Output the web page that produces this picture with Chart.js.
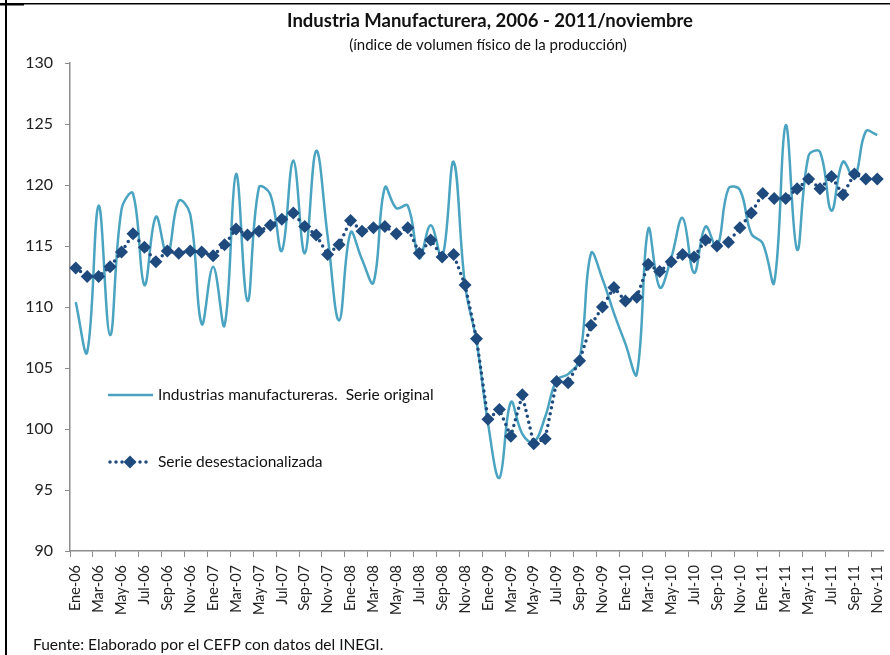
<!DOCTYPE html>
<html>
<head>
<meta charset="utf-8">
<script src="https://cdn.jsdelivr.net/npm/chart.js@4.4.1/dist/chart.umd.min.js"></script>
<style>
  html, body { margin: 0; padding: 0; background: #fff; }
</style>
</head>
<body>
<canvas id="lineChart" width="890" height="655"></canvas>
<script>
// Datos: índice de volumen físico, Ene-2006 a Nov-2011
const meses = ['Ene', 'Feb', 'Mar', 'Abr', 'May', 'Jun', 'Jul', 'Ago', 'Sep', 'Oct', 'Nov', 'Dic'];
const anios = ['06', '07', '08', '09', '10', '11'];
const etiquetas = [];
anios.forEach(a => meses.forEach(m => etiquetas.push(m + '-' + a)));
etiquetas.splice(71); // hasta Nov-11

const serieOriginal = [
    110.4, 106.3, 118.3, 107.7, 118.0, 119.3, 111.8, 117.4, 114.3, 118.7, 117.6, 108.6,
    113.3, 108.5, 120.9, 110.5, 119.8, 119.2, 114.6, 122.0, 114.4, 122.8, 115.8, 108.9,
    116.1, 113.9, 112.0, 119.8, 118.1, 118.3, 114.0, 116.7, 114.0, 121.9, 111.8, 107.2,
    100.5, 96.0, 102.2, 99.6, 98.9, 101.0, 104.0, 104.5, 105.7, 114.4, 112.3, 109.5,
    107.0, 104.5, 116.4, 111.6, 114.0, 117.3, 112.8, 116.6, 114.9, 119.7, 119.6, 116.0,
    115.2, 112.0, 124.9, 114.7, 122.4, 122.7, 117.9, 121.9, 120.6, 124.4, 124.1
];
const serieDesest = [
    113.2, 112.5, 112.5, 113.3, 114.5, 116.0, 114.9, 113.7, 114.6, 114.4, 114.6, 114.5,
    114.2, 115.1, 116.4, 115.9, 116.2, 116.7, 117.2, 117.7, 116.6, 115.9, 114.3, 115.1,
    117.1, 116.2, 116.5, 116.6, 116.0, 116.5, 114.4, 115.5, 114.1, 114.3, 111.8, 107.4,
    100.8, 101.6, 99.4, 102.8, 98.8, 99.2, 103.9, 103.8, 105.6, 108.5, 110.0, 111.6,
    110.5, 110.8, 113.5, 112.9, 113.7, 114.3, 114.1, 115.5, 115.0, 115.3, 116.5, 117.7,
    119.3, 118.9, 118.9, 119.7, 120.5, 119.7, 120.7, 119.2, 120.9, 120.5, 120.5
];
const yMin = 90, yMax = 130, yPaso = 5;

const colorOriginal = '#4aa3c0';
const colorDesest = '#1f4a7e';
const fuente = 'Lato';
Chart.defaults.font.family = fuente;
Chart.defaults.color = '#222';

const decoracion = {
    id: 'decoracion',
    beforeDraw(chart) {
        const ctx = chart.ctx;
        ctx.save();
        ctx.fillStyle = '#000';
        ctx.fillRect(5, 0, 2, 655);
        ctx.fillRect(0, 3, 890, 1.5);
        ctx.fillRect(0, 3, 24, 2.5);
        ctx.restore();
    },
    afterDraw(chart) {
        const ctx = chart.ctx;
        const a = chart.chartArea;
        ctx.save();
        ctx.fillStyle = '#111';
        ctx.textAlign = 'center';
        ctx.textBaseline = 'middle';
        ctx.font = 'bold 18.5px ' + fuente;
        ctx.fillText('Industria Manufacturera, 2006 - 2011/noviembre', 490, 21);
        ctx.font = '15px ' + fuente;
        ctx.fillText('(índice de volumen físico de la producción)', 488, 45);

        // leyenda
        ctx.textAlign = 'left';
        ctx.font = '15.5px ' + fuente;
        const lx = a.left + 38, y1 = 395, y2 = 462;
        ctx.strokeStyle = colorOriginal;
        ctx.lineWidth = 2.5;
        ctx.beginPath();
        ctx.moveTo(lx, y1);
        ctx.lineTo(lx + 45, y1);
        ctx.stroke();
        ctx.fillText('Industrias manufactureras.  Serie original', lx + 50, y1);

        ctx.strokeStyle = colorDesest;
        ctx.lineWidth = 3.5;
        ctx.lineCap = 'round';
        ctx.setLineDash([0, 6]);
        ctx.beginPath();
        ctx.moveTo(lx + 2, y2);
        ctx.lineTo(lx + 44, y2);
        ctx.stroke();
        ctx.setLineDash([]);
        ctx.fillStyle = colorDesest;
        ctx.beginPath();
        ctx.moveTo(lx + 22, y2 - 6.5);
        ctx.lineTo(lx + 28.5, y2);
        ctx.lineTo(lx + 22, y2 + 6.5);
        ctx.lineTo(lx + 15.5, y2);
        ctx.closePath();
        ctx.fill();
        ctx.fillStyle = '#111';
        ctx.fillText('Serie desestacionalizada', lx + 50, y2);

        ctx.font = '15.5px ' + fuente;
        ctx.fillText('Fuente: Elaborado por el CEFP con datos del INEGI.', 33, 645);
        ctx.restore();
    }
};

const ctx = document.getElementById('lineChart').getContext('2d');
new Chart(ctx, {
    type: 'line',
    data: {
        labels: etiquetas,
        datasets: [{
            label: 'Industrias manufactureras.  Serie original',
            data: serieOriginal,
            borderColor: colorOriginal,
            borderWidth: 2.5,
            pointRadius: 0,
            tension: 0.4,
            order: 1
        }, {
            label: 'Serie desestacionalizada',
            data: serieDesest,
            borderColor: colorDesest,
            backgroundColor: colorDesest,
            borderWidth: 3.5,
            borderDash: [0, 6],
            borderCapStyle: 'round',
            pointStyle: 'rectRot',
            pointRadius: 6.5,
            pointBorderWidth: 0,
            tension: 0,
            order: 0
        }]
    },
    options: {
        responsive: false,
        animation: false,
        layout: { padding: { left: 10, right: 7, top: 63, bottom: 0 } },
        plugins: { legend: { display: false }, title: { display: false }, tooltip: { enabled: false } },
        scales: {
            x: {
                offset: true,
                afterFit: s => { s.height = 104; s.paddingLeft = 0; s.paddingRight = 0; },
                border: { color: '#8c8c8c', width: 1.5 },
                grid: {
                    offset: true,
                    drawOnChartArea: false,
                    drawTicks: true,
                    tickLength: 6,
                    color: c => (c.index % 2 === 0 ? '#8c8c8c' : 'rgba(0,0,0,0)')
                },
                ticks: {
                    autoSkip: false,
                    maxRotation: 90,
                    minRotation: 90,
                    padding: 8,
                    font: { size: 14.5 },
                    callback: (v, i) => (i % 2 === 0 ? etiquetas[i] : '')
                }
            },
            y: {
                min: yMin,
                max: yMax,
                afterFit: s => { s.width = 60; s.paddingTop = 0; s.paddingBottom = 0; },
                border: { color: '#8c8c8c', width: 1.5 },
                grid: { drawOnChartArea: false, drawTicks: true, tickLength: 5, color: '#8c8c8c' },
                ticks: { stepSize: yPaso, padding: 12, font: { size: 16 } }
            }
        }
    },
    plugins: [decoracion]
});
</script>
</body>
</html>
